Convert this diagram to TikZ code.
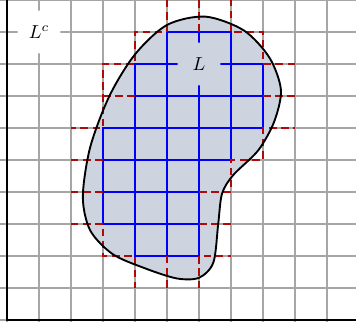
\documentclass[tikz,border=0pt]{standalone}
\usepackage{amsmath}
\usepackage{tikz}

\definecolor{fonsL}{RGB}{205,212,224}
\definecolor{vermell}{RGB}{175,10,10}

\tikzset{
    exterior/.style={vermell, line width=1.5pt, dash pattern=on 4pt off 2.5pt}
}

\begin{document}
\begin{tikzpicture}[scale=0.6]
    \useasboundingbox (-0.21875,-0.0625) rectangle (10.90625,10);
    \clip (-0.21875,-0.0625) rectangle (10.90625,10);

    % QUADRICULA DEL PLA
    \draw[gray!70, semithick] (-0.21875,-0.0625) grid (10.90625,10);
    \draw[line width=1pt] (0,10) -- (0,0) -- (10.90625,0);

    % CONJUNT L (farcit)
    \fill[fonsL] plot[smooth cycle] coordinates {(6.2,9.48) (7.4,9.05) (8.2,8.2) (8.56,7.19) (8.35,6.2) (7.85,5.3) (7.07,4.53) (6.72,3.95) (6.6,3.0) (6.45,1.8) (6.0,1.32) (5.3,1.3) (4.3,1.62) (3.3,2.06) (2.6,2.8) (2.37,3.85) (2.6,5.4) (3.2,7.0) (4.0,8.3) (5.0,9.22)};

    % QUADRATS INTERIORS (aproximacio per dins)
    \foreach \x/\y in {5/8, 6/8, 4/7, 5/7, 6/7, 7/7, 4/6, 5/6, 6/6, 7/6, 3/5, 4/5, 5/5, 6/5, 3/4, 4/4, 5/4, 3/3, 4/3, 5/3, 4/2, 5/2} {
        \draw[blue, semithick] (\x,\y) rectangle ++(1,1);
    }

    % QUADRATS EXTERIORS (aproximacio per fora)
    \draw[exterior] (5,10) -- (5,9) -- (4,9) -- (4,8) -- (3,8) -- (3,6) -- (2,6);
    \draw[exterior] (3,7) -- (4,7);
    \draw[exterior] (2,5) -- (3,5);
    \draw[exterior] (2,4) -- (3,4);
    \draw[exterior] (2,3) -- (3,3) -- (3,2) -- (4,2) -- (4,1);
    \draw[exterior] (5,2) -- (5,1);
    \draw[exterior] (6,1) -- (6,2) -- (7,2);
    \draw[exterior] (6,3) -- (7,3);
    \draw[exterior] (6,4) -- (7,4) -- (7,5) -- (8,5) -- (8,6) -- (9,6);
    \draw[exterior] (8,7) -- (9,7);
    \draw[exterior] (9,8) -- (8,8) -- (8,9) -- (7,9) -- (7,10);
    \draw[exterior] (6,9) -- (6,10);

    % VORA DE L
    \draw[line width=1pt] plot[smooth cycle] coordinates {(6.2,9.48) (7.4,9.05) (8.2,8.2) (8.56,7.19) (8.35,6.2) (7.85,5.3) (7.07,4.53) (6.72,3.95) (6.6,3.0) (6.45,1.8) (6.0,1.32) (5.3,1.3) (4.3,1.62) (3.3,2.06) (2.6,2.8) (2.37,3.85) (2.6,5.4) (3.2,7.0) (4.0,8.3) (5.0,9.22)};

    % ETIQUETES
    \node[circle, fill=white, minimum size=8mm] (Lc) at (1,9) {$L^c$};
    \node[circle, fill=fonsL, minimum size=8mm] (L) at (6,8) {$L$};

\end{tikzpicture}
\end{document}
